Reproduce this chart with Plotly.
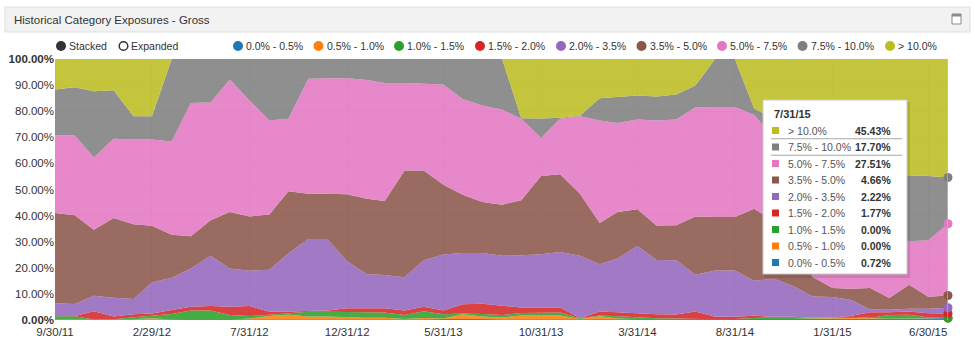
import pandas as pd
import plotly.graph_objects as go

# Month-end observation dates, Sep 2011 .. Jul 2015
months = pd.date_range("2011-09-01", periods=47, freq="MS") + pd.offsets.MonthEnd(0)

series_names = ["0.0% - 0.5%", "0.5% - 1.0%", "1.0% - 1.5%", "1.5% - 2.0%", "2.0% - 3.5%",
                "3.5% - 5.0%", "5.0% - 7.5%", "7.5% - 10.0%", "> 10.0%"]
series_colors = ["#1f77b4", "#ff7f0e", "#2ca02c", "#d62728", "#9467bd",
                 "#8c564b", "#e377c2", "#7f7f7f", "#bcbd22"]

# Exposure share (%) per bucket, one value per month
exp_00_05 = [0.2, 0.2, 0.1, 0.1, 0.1, 0.1, 0.1, 0.1, 0.1, 0.1,
             0.1, 0.1, 0.2, 0.2, 0.2, 0.2, 0.2, 0.2, 0.2, 0.3,
             0.4, 0.5, 0.4, 0.3, 0.3, 0.3, 0.3, 0.2, 0.3, 0.2,
             0.2, 0.2, 0.2, 0.2, 0.2, 0.2, 0.2, 0.2, 0.2, 0.3,
             0.3, 0.3, 0.4, 0.4, 0.5, 0.6, 0.72]
exp_05_10 = [0, 0, 0, 0, 0.2, 0.6, 0.1, 0, 0, 0,
             0.5, 1.4, 1.8, 1.1, 1.1, 0.8, 0.7, 0.7, 0.2, 0.5,
             0.2, 1.7, 0.9, 0.7, 1.4, 1.4, 1.4, 0.2, 1.1, 0.4,
             0.1, 0.1, 0.1, 0.1, 0.1, 0.1, 0.2, 0.2, 0.2, 0.3,
             0.5, 0.5, 0.3, 0.1, 0.1, 0, 0.00]
exp_10_15 = [1.2, 1.2, 0.1, 0.2, 0.8, 1.0, 2.1, 3.5, 3.5, 1.8,
             0.9, 0.5, 0.5, 1.9, 1.9, 2.1, 2.0, 2.0, 1.5, 2.6,
             1.6, 0.3, 1.0, 0.9, 1.0, 1.2, 1.2, 0.3, 0.3, 0.8,
             0.7, 0.4, 0.3, 0.1, 0, 0.1, 0.4, 0.5, 0.5, 0.2,
             0.1, 0.4, 0.2, 1.4, 1.4, 0.4, 0.00]
exp_15_20 = [0.1, 0.1, 3.2, 1.0, 1.1, 0.8, 1.5, 1.5, 1.8, 3.2,
             3.9, 1.2, 0.8, 0.2, 0.4, 1.4, 1.6, 1.6, 1.7, 1.7,
             1.4, 3.5, 3.9, 3.6, 2.1, 1.9, 1.9, 0.1, 1.6, 1.6,
             1.6, 1.5, 1.5, 2.9, 0.9, 0.8, 0.8, 0.3, 0.3, 0.1,
             0.1, 0.3, 2.1, 1.1, 1.3, 1.6, 1.77]
exp_20_35 = [4.9, 4.6, 5.9, 7.2, 5.8, 11.9, 12.4, 14.6, 19.2, 14.6,
             13.5, 16.1, 22.2, 27.6, 27.4, 18.0, 13.0, 12.7, 12.8, 17.8,
             21.5, 19.7, 19.5, 19.1, 20.0, 20.4, 21.3, 23.8, 18.1, 20.6,
             25.8, 20.8, 20.8, 14.0, 17.8, 17.8, 13.4, 14.6, 11.8, 8.1,
             7.8, 6.3, 1.0, 0.9, 1.0, 1.7, 2.22]
exp_35_50 = [34.6, 34.0, 25.3, 30.6, 28.7, 21.7, 16.5, 12.4, 13.6, 21.7,
             20.8, 21.1, 23.8, 17.4, 17.4, 25.7, 29.0, 28.4, 40.9, 34.4,
             26.7, 22.3, 19.5, 19.6, 21.1, 30.0, 29.7, 23.8, 15.8, 17.8,
             14.0, 13.2, 13.4, 22.4, 20.5, 20.5, 27.6, 22.2, 17.0, 7.5,
             3.5, 4.2, 8.3, 4.5, 9.2, 4.6, 4.66]
exp_50_75 = [29.7, 30.6, 27.7, 30.3, 32.5, 33.1, 35.7, 51.0, 45.1, 50.7,
             44.4, 36.0, 27.8, 44.0, 44.2, 44.4, 45.5, 45.2, 33.5, 33.1,
             38.4, 36.7, 37.0, 36.4, 31.2, 14.5, 21.3, 29.7, 39.2, 34.1,
             34.4, 40.2, 40.5, 41.8, 42.0, 42.1, 35.9, 32.0, 32.0, 38.5,
             34.7, 29.0, 23.7, 23.6, 16.7, 21.7, 27.51]
exp_75_100 = [17.6, 18.5, 25.3, 18.6, 8.9, 8.9, 31.6, 16.9, 16.7, 7.9,
              15.9, 23.6, 22.9, 7.6, 7.4, 7.4, 8.0, 9.2, 9.2, 9.6,
              9.8, 15.3, 17.8, 19.4, 0.2, 7.5, 0.4, 0.2, 8.6, 9.9,
              9.2, 9.2, 9.6, 8.3, 18.5, 18.4, 2.5, 7.0, 11.0, 12.0,
              16.0, 19.0, 22.0, 24.5, 25.2, 24.6, 17.70]
exp_over_100 = [11.7, 10.8, 12.4, 12.0, 21.9, 21.9, 0, 0, 0, 0,
                0, 0, 0, 0, 0, 0, 0, 0, 0, 0,
                0, 0, 0, 0, 22.7, 22.8, 22.5, 21.7, 15.0, 14.6,
                14.0, 14.4, 13.6, 10.2, 0, 0, 19.0, 23.0, 27.0, 33.0,
                37.0, 40.0, 42.0, 43.5, 44.6, 44.8, 45.43]

series_values = [exp_00_05, exp_05_10, exp_10_15, exp_15_20, exp_20_35,
                 exp_35_50, exp_50_75, exp_75_100, exp_over_100]

x_tick_labels = ["9/30/11", "2/29/12", "7/31/12", "12/31/12", "5/31/13",
                 "10/31/13", "3/31/14", "8/31/14", "1/31/15", "6/30/15"]
y_tick_values = [0, 10, 20, 30, 40, 50, 60, 70, 80, 90, 100]
y_tick_labels = ["<b>0.00%</b>", "10.00%", "20.00%", "30.00%", "40.00%", "50.00%",
                 "60.00%", "70.00%", "80.00%", "90.00%", "<b>100.00%</b>"]
tooltip_date = "7/31/15"

FONT = "Liberation Sans, Arial, sans-serif"
FIG_W, FIG_H = 975, 342
L, T, W, H = 55, 59, 893, 261  # plot box in pixels


def fx(px):
    return (px - L) / W


def fy(py):
    return (T + H - py) / H


def rgba(hex_color, a):
    h = hex_color.lstrip("#")
    r, g, b = int(h[0:2], 16), int(h[2:4], 16), int(h[4:6], 16)
    return f"rgba({r},{g},{b},{a})"


fig = go.Figure()

# Stacked areas
for name, color, vals in zip(series_names, series_colors, series_values):
    fig.add_trace(go.Scatter(
        x=months, y=vals, name=name, mode="lines", stackgroup="one",
        line=dict(width=0, color=color), fillcolor=rgba(color, 0.88),
        hoverinfo="skip", showlegend=False,
    ))

# Hover guide at the last month, with a dot on each stacked layer
last = months[-1]
cum = 0.0
dot_y = []
for vals in series_values:
    cum += vals[-1]
    dot_y.append(cum)

shapes = []
annotations = []

shapes.append(dict(type="line", xref="x", yref="paper", x0=last, x1=last, y0=0, y1=1,
                   line=dict(color="#cfcfcf", width=1), layer="above"))

for color, yv in zip(series_colors, dot_y):
    fig.add_trace(go.Scatter(
        x=[last], y=[yv], mode="markers", cliponaxis=False,
        marker=dict(size=9, color=color, line=dict(width=0)),
        hoverinfo="skip", showlegend=False,
    ))

# Panel header bar
shapes.append(dict(type="rect", xref="paper", yref="paper",
                   x0=fx(5), x1=fx(970), y0=fy(32), y1=fy(7),
                   fillcolor="#f2f2f2", line=dict(color="#dedede", width=1), layer="above"))
annotations.append(dict(xref="paper", yref="paper", x=fx(12), y=fy(19.5), xanchor="left",
                        yanchor="middle", showarrow=False,
                        text="Historical Category Exposures - Gross",
                        font=dict(family=FONT, size=11.5, color="#333333")))
# maximize icon
shapes.append(dict(type="rect", xref="paper", yref="paper",
                   x0=fx(952), x1=fx(961), y0=fy(24), y1=fy(14),
                   fillcolor="#ffffff", line=dict(color="#8a8a8a", width=1), layer="above"))
shapes.append(dict(type="rect", xref="paper", yref="paper",
                   x0=fx(952), x1=fx(961), y0=fy(16.5), y1=fy(14),
                   fillcolor="#8a8a8a", line=dict(width=0), layer="above"))


def circle(cx, cy, r, fill, edge=None, lw=0):
    return dict(type="circle", xref="paper", yref="paper",
                x0=fx(cx - r), x1=fx(cx + r), y0=fy(cy + r), y1=fy(cy - r),
                fillcolor=fill, line=dict(color=edge or fill, width=lw), layer="above")


def label(px, py, text, size=10.5, color="#333333", anchor="left", bold=False):
    if bold:
        text = f"<b>{text}</b>"
    return dict(xref="paper", yref="paper", x=fx(px), y=fy(py), xanchor=anchor,
                yanchor="middle", showarrow=False, text=text,
                font=dict(family=FONT, size=size, color=color))


# Stacked / Expanded controls
LEG_Y = 46
shapes.append(circle(61, LEG_Y, 5, "#333333"))
annotations.append(label(67, LEG_Y, "Stacked"))
shapes.append(circle(123.5, LEG_Y, 4.3, "#ffffff", "#333333", 1.5))
annotations.append(label(129, LEG_Y, "Expanded"))

# Series legend
legend_x = [238, 318.5, 399, 480, 561, 641.5, 722, 802.5, 890]
for cx, name, color in zip(legend_x, series_names, series_colors):
    shapes.append(circle(cx, LEG_Y, 5, color))
    annotations.append(label(cx + 6, LEG_Y, name))

# Tooltip box for the last month
TX0, TX1, TY0, TY1 = 763, 907, 100, 274
shapes.append(dict(type="rect", xref="paper", yref="paper",
                   x0=fx(TX0 + 1), x1=fx(TX1 + 3), y0=fy(TY1 + 4), y1=fy(TY0 + 2),
                   fillcolor="rgba(0,0,0,0.10)", line=dict(width=0), layer="above"))
shapes.append(dict(type="rect", xref="paper", yref="paper",
                   x0=fx(TX0), x1=fx(TX1), y0=fy(TY1), y1=fy(TY0),
                   fillcolor="#ffffff", line=dict(color="#c9c9c9", width=1), layer="above"))
annotations.append(label(772, 113.5, tooltip_date, size=11, color="#333333", bold=True))

row_y0, row_step = 130.5, 16.5
hover_series = "7.5% - 10.0%"
order = list(range(len(series_names)))[::-1]
for k, idx in enumerate(order):
    ry = row_y0 + k * row_step
    color = series_colors[idx]
    shapes.append(dict(type="rect", xref="paper", yref="paper",
                       x0=fx(772), x1=fx(779), y0=fy(ry + 3.5), y1=fy(ry - 3.5),
                       fillcolor=color, line=dict(width=0), layer="above"))
    annotations.append(label(786, ry, series_names[idx], size=10.5, color="#555555"))
    annotations.append(label(893, ry, f"{series_values[idx][-1]:.2f}%", size=10.5,
                             color="#333333", anchor="right", bold=True))
    if series_names[idx] == hover_series:
        for yy in (ry - row_step / 2, ry + row_step / 2):
            shapes.append(dict(type="line", xref="paper", yref="paper",
                               x0=fx(771), x1=fx(902), y0=fy(yy), y1=fy(yy),
                               line=dict(color="#a8a8a8", width=1), layer="above"))

fig.update_layout(
    width=FIG_W, height=FIG_H,
    margin=dict(l=L, r=FIG_W - L - W, t=T, b=FIG_H - T - H, autoexpand=False),
    paper_bgcolor="#ffffff", plot_bgcolor="#ffffff",
    font=dict(family=FONT, size=11, color="#333333"),
    showlegend=False,
    shapes=shapes, annotations=annotations,
    xaxis=dict(range=[months[0], months[-1]], tickmode="array", automargin=False,
               tickvals=list(months[::5]), ticktext=x_tick_labels,
               showgrid=True, gridcolor="#e6e6e6", zeroline=False, showline=False,
               ticks="", ticklabelstandoff=3,
               tickfont=dict(family=FONT, size=11.5, color="#333333")),
    yaxis=dict(range=[0, 100], tickmode="array", tickvals=y_tick_values, automargin=False,
               ticktext=y_tick_labels, showgrid=True, gridcolor="#e6e6e6",
               zeroline=False, showline=False, ticks="",
               tickfont=dict(family=FONT, size=11.5, color="#333333")),
)

fig.write_html("out.html")
